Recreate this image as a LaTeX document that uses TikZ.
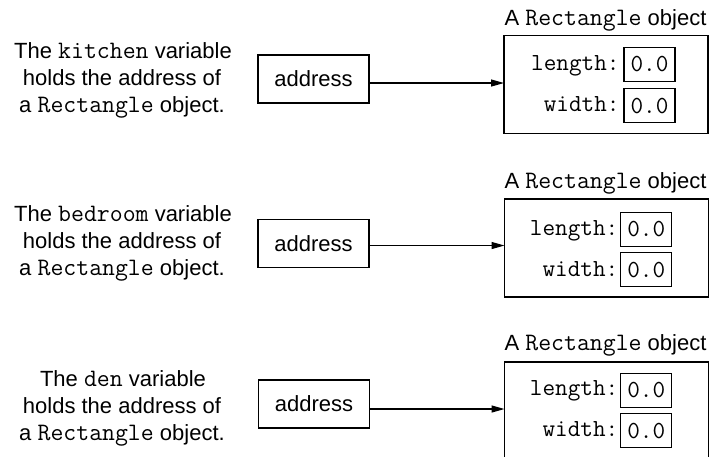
\documentclass[tikz,border=0pt]{standalone}
\usepackage{fontspec}
\setmainfont{Liberation Sans}
\setmonofont[Scale=1.14]{Latin Modern Mono}
\usetikzlibrary{arrows.meta}
\begin{document}
\begin{tikzpicture}[x=1pt,y=-1pt,
  every node/.style={inner sep=0pt,outer sep=0pt},
  txt/.style={font=\fontsize{22}{27}\selectfont,anchor=base},
  addr/.style={draw,line width=1.2pt,minimum width=111pt,minimum height=48pt,font=\fontsize{22}{27}\selectfont},
  obj/.style={draw,line width=1.2pt,minimum width=204pt,minimum height=98pt},
  val/.style={draw,line width=1.2pt,minimum width=51pt,minimum height=34pt,font=\fontsize{21.5}{26}\ttfamily},
  lbl/.style={anchor=base east,font=\fontsize{21.5}{26}\ttfamily},
  arr/.style={line width=1.2pt,-{Triangle[length=13pt,width=7pt]}}]
\useasboundingbox (0,0) rectangle (715,456);

% ---------- Row 1: kitchen ----------
\node[txt] (k1) at (123,58.5) {The \texttt{kitchen} variable};
\node[txt] (k2) at (122,85.5) {holds the address of};
\node[txt] (k3) at (122,112.5) {a \texttt{Rectangle} object.};
\node[addr] (a1) at (313.5,79) {address};
\node[txt] (h1) at (605.5,25) {A \texttt{Rectangle} object};
\node[obj] (o1) at (606,84.5) {};
\node[val] (l1) at (649.5,64.5) {0.0};
\node[val] (w1) at (649.5,105.7) {0.0};
\node[lbl] (ll1) at (619.5,70) {length:};
\node[lbl] (wl1) at (619.5,111.5) {width:};
\coordinate (t1) at ([yshift=1.5pt]o1.west);
\draw[arr] (a1.east |- t1) -- (t1);

% ---------- Row 2: bedroom ----------
\node[txt] (b1) at (123,221.7) {The \texttt{bedroom} variable};
\node[txt] (b2) at (122,248.2) {holds the address of};
\node[txt] (b3) at (122,275) {a \texttt{Rectangle} object.};
\node[addr] (a2) at (313.5,243.5) {address};
\node[txt] (h2) at (605.5,188) {A \texttt{Rectangle} object};
\node[obj] (o2) at (606.5,248) {};
\node[val] (l2) at (646.2,229.5) {0.0};
\node[val] (w2) at (646.2,269.7) {0.0};
\node[lbl] (ll2) at (618.3,235) {length:};
\node[lbl] (wl2) at (618.3,276) {width:};
\coordinate (t2) at ([yshift=2.5pt]o2.west);
\draw[arr] (a2.east |- t2) -- (t2);

% ---------- Row 3: den ----------
\node[txt] (d1) at (123,386.7) {The \texttt{den} variable};
\node[txt] (d2) at (122,413.2) {holds the address of};
\node[txt] (d3) at (122,440) {a \texttt{Rectangle} object.};
\node[addr] (a3) at (314,404) {address};
\node[txt] (h3) at (605.5,350) {A \texttt{Rectangle} object};
\node[obj] (o3) at (606.5,411) {};
\node[val] (l3) at (646.2,390.3) {0.0};
\node[val] (w3) at (646.2,430.8) {0.0};
\node[lbl] (ll3) at (618.3,395.7) {length:};
\node[lbl] (wl3) at (618.3,436) {width:};
\coordinate (t3) at ([yshift=2pt]o3.west);
\draw[arr] (a3.east |- t3) -- (t3);
\end{tikzpicture}
\end{document}
